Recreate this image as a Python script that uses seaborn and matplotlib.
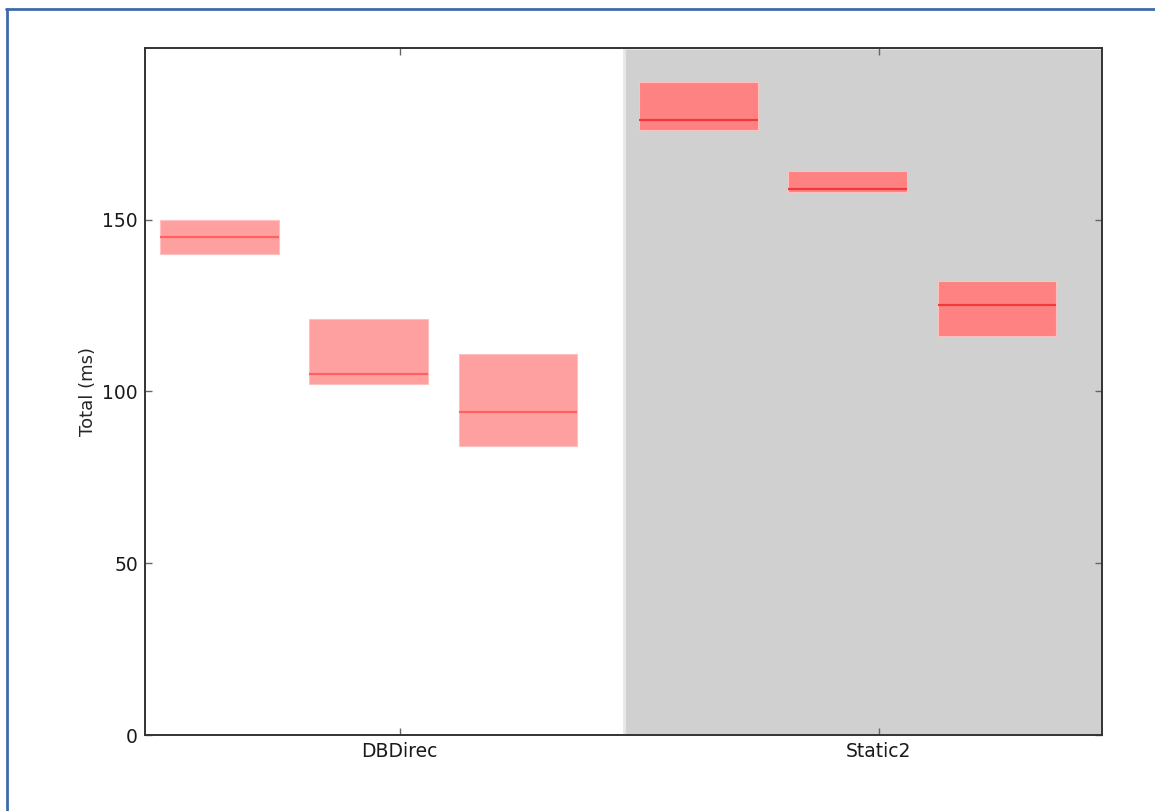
import numpy as np
import pandas as pd
import matplotlib
matplotlib.use("Agg")
import matplotlib.pyplot as plt
from matplotlib.lines import Line2D
import seaborn as sns

# Benchmark timings (ms): low / median / high per run, grouped by configuration
groups = ["DBDirec", "Static2"]
run_index = [0, 1, 2]
low = [140, 102, 84, 176, 158, 116]
median = [145, 105, 94, 179, 159, 125]
high = [150, 121, 111, 190, 164, 132]

df = pd.DataFrame({
    "group": np.repeat(groups, len(run_index)),
    "run": run_index * len(groups),
    "low": low,
    "median": median,
    "high": high,
})

sns.set_theme(style="ticks")
plt.rcParams.update({
    "font.family": ["DejaVu Sans"],
    "xtick.direction": "in",
    "ytick.direction": "in",
    "axes.edgecolor": "#333333",
    "axes.linewidth": 1.4,
})

fig = plt.figure(figsize=(11.55, 8.11), dpi=100)
ax = fig.add_axes([0.1255, 0.0937, 0.8286, 0.8471])

# shaded band behind the second configuration
ax.axvspan(0.468, 1.466, facecolor="#d0d0d0", edgecolor="#e8e8e8", linewidth=2, zorder=0)

width = 0.248
step = 0.312
fills = {"DBDirec": "#ffa0a0", "Static2": "#ff8282"}
lines = {"DBDirec": "#ff6060", "Static2": "#f03a3a"}
for _, r in df.iterrows():
    g = groups.index(r["group"])
    x = g + (r["run"] - 1) * step - 0.065
    ax.bar(x, r["high"] - r["low"], bottom=r["low"], width=width,
           color=fills[r["group"]], edgecolor="#ffc0c0", linewidth=0.8, zorder=2)
    ax.hlines(r["median"], x - width / 2, x + width / 2,
              color=lines[r["group"]], linewidth=1.6, zorder=3)

ax.set_xlim(-0.532, 1.466)
ax.set_ylim(0, 199.9)
ax.set_xticks(range(len(groups)))
ax.set_xticklabels(groups)
ax.set_yticks([0, 50, 100, 150])
ax.set_ylabel("Total (ms)", fontsize=13)
ax.tick_params(axis="both", labelsize=13.5, length=5, width=1, color="#666666",
               top=True, right=True, pad=5, labelcolor="#1a1a1a")
for s in ax.spines.values():
    s.set_visible(True)
    s.set_zorder(5)

# frame lines along the top and left edges of the figure
fig.add_artist(Line2D([6 / 1155, 1], [1 - 9 / 811, 1 - 9 / 811],
                      transform=fig.transFigure, color="#3f6aa8", linewidth=2))
fig.add_artist(Line2D([6.5 / 1155, 6.5 / 1155], [0, 1 - 9 / 811],
                      transform=fig.transFigure, color="#3f6aa8", linewidth=2))

fig.savefig("out.png", dpi=100)
